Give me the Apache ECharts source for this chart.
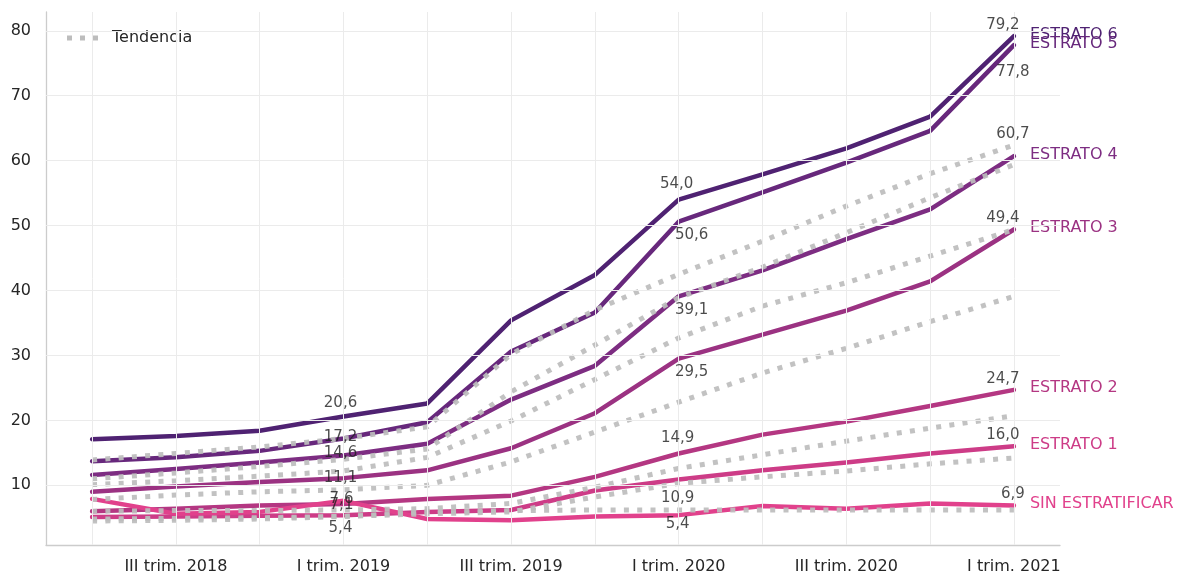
<!DOCTYPE html>
<html>
<head>
<meta charset="utf-8">
<script src="https://cdn.jsdelivr.net/npm/echarts@6/dist/echarts.min.js"></script>
<style>
html,body{margin:0;padding:0;background:#fff;}
#chart{width:1177px;height:575px;}
</style>
</head>
<body>
<div id="chart"></div>
<script>
// ---------- DATA ----------
const categories = ['II trim. 2018','III trim. 2018','IV trim. 2018','I trim. 2019','II trim. 2019','III trim. 2019','IV trim. 2019','I trim. 2020','II trim. 2020','III trim. 2020','IV trim. 2020','I trim. 2021'];
const xLabelTicks = [1, 3, 5, 7, 9, 11];
const yTicks = [10, 20, 30, 40, 50, 60, 70, 80];

const seriesNames = ['ESTRATO 6','ESTRATO 5','ESTRATO 4','ESTRATO 3','ESTRATO 2','ESTRATO 1','SIN ESTRATIFICAR'];
const estrato6 = [17.1, 17.6, 18.4, 20.6, 22.6, 35.4, 42.4, 54.0, 57.9, 61.9, 66.8, 79.2];
const estrato5 = [13.7, 14.3, 15.3, 17.2, 19.7, 30.6, 36.6, 50.6, 55.1, 59.7, 64.6, 77.8];
const estrato4 = [11.6, 12.5, 13.5, 14.6, 16.4, 23.2, 28.4, 39.1, 43.1, 47.9, 52.5, 60.7];
const estrato3 = [9.0, 9.8, 10.5, 11.1, 12.3, 15.7, 21.1, 29.5, 33.2, 36.9, 41.4, 49.4];
const estrato2 = [6.0, 6.4, 6.9, 7.1, 7.9, 8.4, 11.3, 14.9, 17.8, 19.8, 22.2, 24.7];
const estrato1 = [5.1, 5.2, 5.3, 5.4, 5.9, 6.2, 9.2, 10.9, 12.3, 13.5, 14.9, 16.0];
const sinEstratificar = [7.9, 5.6, 5.9, 7.6, 4.8, 4.6, 5.2, 5.4, 6.8, 6.4, 7.2, 6.9];

const trend1 = [13.9, 14.9, 15.9, 17.2, 19.0, 30.2, 37.0, 42.5, 47.6, 53.0, 58.0, 62.4];
const trend2 = [11.0, 11.9, 12.9, 14.0, 15.6, 24.4, 31.6, 38.9, 43.6, 48.9, 54.3, 59.4];
const trend3 = [10.1, 10.7, 11.4, 12.2, 14.3, 19.9, 26.3, 32.7, 37.6, 41.2, 45.3, 49.4];
const trend4 = [7.8, 8.5, 9.0, 9.3, 10.0, 13.6, 18.2, 22.8, 27.3, 31.1, 35.2, 39.1];
const trend5 = [6.0, 6.1, 6.1, 6.2, 6.4, 7.2, 9.7, 12.6, 14.7, 16.8, 18.8, 20.7];
const trend6 = [4.8, 4.9, 5.0, 5.2, 5.6, 5.9, 8.2, 10.3, 11.3, 12.2, 13.3, 14.2];
const trend7 = [4.5, 4.6, 4.8, 5.2, 5.9, 6.1, 6.2, 6.2, 6.2, 6.2, 6.2, 6.2];

const labelIndices = [3, 7, 11];

// ---------- STYLE / POSITIONS ----------
const FONT = 'DejaVu Sans';
const colors = ['#4f2272', '#67287c', '#7d2d82', '#9b3282', '#b43782', '#cd3c87', '#e1418c'];
const labelOffsets = [
  {3: [-3, -13], 7: [-2, -16], 11: [-11, -11]},
  {3: [-3, -1],  7: [13, 13],  11: [-1, 27]},
  {3: [-3, -2],  7: [13, 14],  11: [-1, -22]},
  {3: [-3, 0],   7: [13, 13],  11: [-11, -11]},
  {3: [-2, 1],   7: [-1, -15], 11: [-11, -11]},
  {3: [-3, 13],  7: [-1, 19],  11: [-11, -11]},
  {3: [-2, -2],  7: [-1, 9],   11: [-1, -11]}
];

const allSeriesValues = [estrato6, estrato5, estrato4, estrato3, estrato2, estrato1, sinEstratificar];
const allTrends = [trend1, trend2, trend3, trend4, trend5, trend6, trend7];

const toXY = arr => arr.map((v, i) => [i, v]);
const fmt = v => v.toFixed(1).replace('.', ',');

const series = [];

// grid lines drawn through the axes' scales
series.push({
  name: 'grid', type: 'line', data: [], z: 0, silent: true,
  markLine: {
    silent: true, symbol: ['none', 'none'], animation: false,
    label: {show: false},
    lineStyle: {color: '#ebebeb', width: 1, type: 'solid'},
    data: yTicks.map(v => ({yAxis: v})).concat(categories.map((c, i) => ({xAxis: i})))
  }
});

allSeriesValues.forEach((vals, k) => {
  series.push({
    name: seriesNames[k], type: 'line', data: toXY(vals), z: 2,
    symbol: 'none', showSymbol: false,
    lineStyle: {color: colors[k], width: 4.5, cap: 'round', join: 'round'},
    itemStyle: {color: colors[k]},
    endLabel: {
      show: true, formatter: seriesNames[k], color: colors[k],
      fontFamily: FONT, fontSize: 16, distance: 16, offset: [0, -1.5]
    }
  });
});

allTrends.forEach((vals) => {
  series.push({
    name: 'Tendencia', type: 'line', data: toXY(vals), z: 3,
    symbol: 'none', showSymbol: false,
    lineStyle: {color: '#bdbdbd', width: 5, type: [5, 8.3], opacity: 0.92, cap: 'butt'},
    itemStyle: {color: '#bdbdbd'}
  });
});

allSeriesValues.forEach((vals, k) => {
  series.push({
    name: 'lbl' + k, type: 'scatter', z: 5, silent: true,
    symbolSize: 1,
    itemStyle: {color: 'rgba(0,0,0,0)'},
    data: labelIndices.map(i => ({
      value: [i, vals[i]],
      label: {offset: labelOffsets[k][i]}
    })),
    label: {
      show: true, position: 'inside',
      formatter: p => fmt(p.value[1]),
      color: '#1e1e1e', fontFamily: FONT, fontSize: 15
    }
  });
});

const option = {
  animation: false,
  backgroundColor: '#ffffff',
  textStyle: {fontFamily: FONT},
  grid: {left: 46, right: 117, top: 12, bottom: 30, containLabel: false},
  legend: {
    data: [{name: 'Tendencia', icon: 'path://M0,0h5v5h-5z M13,0h5v5h-5z M26,0h5v5h-5z'}],
    left: 62, top: 25, itemWidth: 31, itemHeight: 5,
    itemStyle: {color: '#bdbdbd', borderWidth: 0},
    lineStyle: {width: 0, opacity: 0},
    textStyle: {fontFamily: FONT, fontSize: 16, color: '#262626', padding: [0, 0, 0, 9]}
  },
  xAxis: {
    type: 'value', min: -0.55, max: 11.55,
    axisLine: {show: true, onZero: false, lineStyle: {color: '#cccccc', width: 1.3}},
    axisTick: {show: false},
    splitLine: {show: false},
    axisLabel: {
      customValues: xLabelTicks,
      formatter: v => categories[Math.round(v)] || '',
      color: '#262626', fontFamily: FONT, fontSize: 16, margin: 14
    }
  },
  yAxis: {
    type: 'value', min: 0.8, max: 82.9,
    axisLine: {show: true, onZero: false, lineStyle: {color: '#cccccc', width: 1.3}},
    axisTick: {show: false},
    splitLine: {show: false},
    axisLabel: {
      customValues: yTicks,
      formatter: v => String(v),
      color: '#262626', fontFamily: FONT, fontSize: 16, margin: 15
    }
  },
  series: series
};

const chart = echarts.init(document.getElementById('chart'), null, {renderer: 'canvas'});
chart.setOption(option);
</script>
</body>
</html>
